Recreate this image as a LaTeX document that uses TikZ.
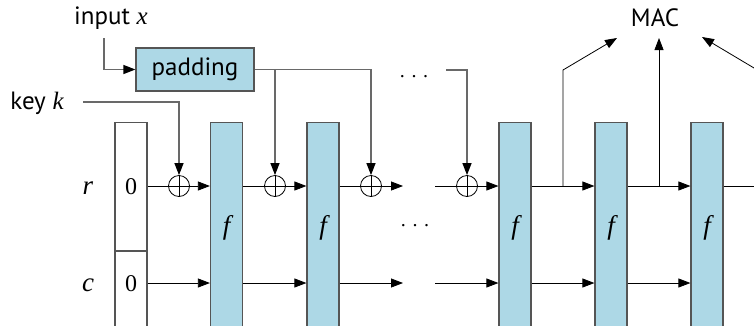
\documentclass[tikz,border=0pt]{standalone}
\usepackage{fontspec}
\setsansfont{PT Sans}
\newfontfamily\mathser{Liberation Serif}
\newcommand{\mv}[1]{{\mathser\itshape #1}}
\usetikzlibrary{arrows.meta,calc}
\definecolor{fblue}{RGB}{173,216,230}
\definecolor{graybox}{RGB}{85,85,85}
\definecolor{grayline}{RGB}{105,105,105}
\begin{document}
\begin{tikzpicture}[x=1pt,y=-1pt,
  every node/.style={font=\fontsize{25}{28}\selectfont\sffamily},
  sym/.style={inner sep=0pt, font=\fontsize{27}{30}\selectfont\mathser\itshape},
  zero/.style={inner sep=0pt, font=\fontsize{24}{26}\selectfont\mathser},
  fbox/.style={draw=graybox, line width=1.2pt, fill=fblue, minimum width=32pt, minimum height=230pt, inner sep=0pt, anchor=north},
  xor/.style={draw, circle, minimum size=21pt, inner sep=0pt, line width=0.8pt,
    path picture={\draw[line width=0.8pt] (path picture bounding box.north) -- (path picture bounding box.south) (path picture bounding box.west) -- (path picture bounding box.east);}},
  arr/.style={-{Triangle[length=12pt,width=9pt,color=black]}},
  bline/.style={line width=0.8pt, black},
  gline/.style={line width=1.2pt, grayline},
  dots/.style={inner sep=0pt, font=\fontsize{20}{22}\selectfont\mathser}
]
\useasboundingbox (0,0) rectangle (754,325);
% state box
\node[draw=graybox, line width=1.2pt, minimum width=32pt, minimum height=230pt, inner sep=0pt, anchor=north] (st) at (131,122) {};
\coordinate (dv) at (131,251);
\draw[graybox, line width=1.2pt] (dv -| st.west) -- (dv -| st.east);
\node[zero] (z1) at (131,187) {0};
\node[zero] (z2) at (131,284) {0};
\node[sym] (r) at (88,188) {r};
\node[sym] (c) at (88,285) {c};
% f boxes
\node[fbox] (f1) at (226.5,122) {};
\node[fbox] (f2) at (323,122) {};
\node[fbox] (f3) at (515,122) {};
\node[fbox] (f4) at (611,122) {};
\node[fbox] (f5) at (707,122) {};
\node[sym] (l1) at (226.5,228) {f};
\node[sym] (l2) at (323,228) {f};
\node[sym] (l3) at (515,228) {f};
\node[sym] (l4) at (611,228) {f};
\node[sym] (l5) at (707,228) {f};
\node[dots] (d1) at (415,226) {. . .};
% xors
\node[xor] (x1) at (179,186) {};
\node[xor] (x2) at (275,186) {};
\node[xor] (x3) at (371,186) {};
\node[xor] (x4) at (467,186) {};
\coordinate (cc) at (0,283);
\coordinate (e1) at (403,186);
\coordinate (s1) at (435,186);
\coordinate (e2) at (403,283);
\coordinate (s2) at (435,283);
\coordinate (rend) at (754,186);
% r row
\draw[bline] (st.east |- x1) -- (x1.west);
\draw[bline,arr] (x1.east) -- (x1 -| f1.west);
\draw[bline] (x1 -| f1.east) -- (x2.west);
\draw[bline,arr] (x2.east) -- (x2 -| f2.west);
\draw[bline] (x2 -| f2.east) -- (x3.west);
\draw[bline,arr] (x3.east) -- (e1);
\draw[bline] (s1) -- (x4.west);
\draw[bline,arr] (x4.east) -- (x4 -| f3.west);
\draw[bline,arr] (x4 -| f3.east) -- (x4 -| f4.west);
\draw[bline,arr] (x4 -| f4.east) -- (x4 -| f5.west);
\draw[bline] (x4 -| f5.east) -- (rend);
% c row
\draw[bline,arr] (st.east |- cc) -- (cc -| f1.west);
\draw[bline,arr] (cc -| f1.east) -- (cc -| f2.west);
\draw[bline,arr] (cc -| f2.east) -- (e2);
\draw[bline,arr] (s2) -- (cc -| f3.west);
\draw[bline,arr] (cc -| f3.east) -- (cc -| f4.west);
\draw[bline,arr] (cc -| f4.east) -- (cc -| f5.west);
% top
\node (in) at (111,18) {input \mv{x}};
\node[draw=graybox, line width=1.2pt, fill=fblue, minimum width=118pt, minimum height=43pt, inner sep=0pt] (pad) at (195,69.5) {padding};
\coordinate (inc) at (104,38);
\draw[gline,arr] (inc) -- (inc |- pad.west) -- (pad.west);
\draw[gline,arr] (pad.east) -- (pad.east -| x3) -- (x3.north);
\draw[gline,arr] (pad.east -| x2) -- (x2.north);
\node[dots] (d2) at (414,77) {. . .};
\coordinate (p4) at (446,70);
\draw[gline,arr] (p4) -- (p4 -| x4) -- (x4.north);
\node (key) at (37,103) {key \mv{k}};
\coordinate (k1) at (83,102);
\draw[gline,arr] (k1) -- (k1 -| x1) -- (x1.north);
% MAC
\node (mac) at (655,18) {MAC};
\coordinate (b1) at (563,186);
\coordinate (b1t) at (563,70);
\coordinate (m1) at (617,38);
\coordinate (b2) at (659,186);
\coordinate (m2) at (659,38);
\coordinate (b3) at (754,68);
\coordinate (m3) at (702,37);
\draw[bline,arr] (b1) -- (b1t) -- (m1);
\draw[bline,arr] (b2) -- (m2);
\draw[bline,arr] (b3) -- (m3);
\end{tikzpicture}
\end{document}
